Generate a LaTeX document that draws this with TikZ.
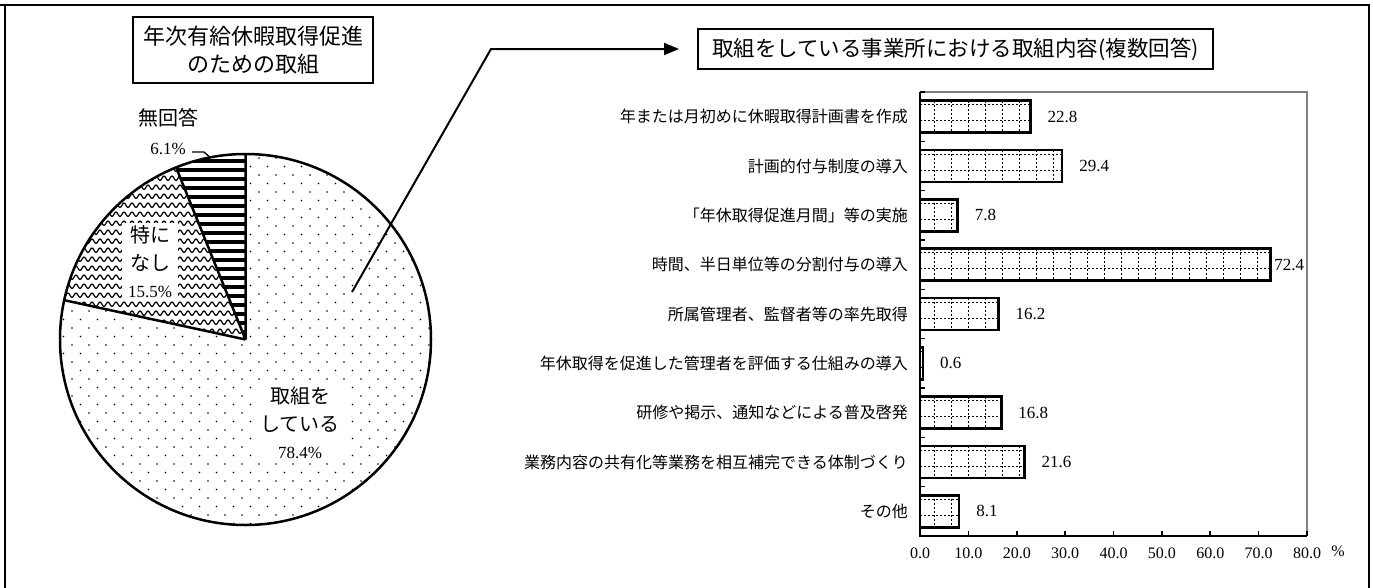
\documentclass[tikz,border=0pt]{standalone}
\usepackage{fontspec}
\setmainfont{Liberation Serif}
\newfontfamily\jp{Noto Sans CJK JP}
\usetikzlibrary{patterns,arrows.meta}

\pgfdeclarepatternformonly{sparsedots}{\pgfqpoint{-1pt}{-1pt}}{\pgfqpoint{18pt}{18pt}}{\pgfqpoint{17pt}{17pt}}{%
  \pgfpathcircle{\pgfqpoint{4pt}{4pt}}{0.9pt}%
  \pgfpathcircle{\pgfqpoint{12.5pt}{12.5pt}}{0.9pt}%
  \pgfusepath{fill}}
\pgfdeclarepatternformonly{wavelines}{\pgfqpoint{-1pt}{-1pt}}{\pgfqpoint{9pt}{10pt}}{\pgfqpoint{8pt}{9pt}}{%
  \pgfsetlinewidth{1.2pt}%
  \pgfpathmoveto{\pgfqpoint{0pt}{1.5pt}}%
  \pgfpathcurveto{\pgfqpoint{1.5pt}{1.5pt}}{\pgfqpoint{2.5pt}{6pt}}{\pgfqpoint{4pt}{6pt}}%
  \pgfpathcurveto{\pgfqpoint{5.5pt}{6pt}}{\pgfqpoint{6.5pt}{1.5pt}}{\pgfqpoint{8pt}{1.5pt}}%
  \pgfusepath{stroke}}

\begin{document}
\begin{tikzpicture}[x=1pt,y=-1pt,
    frame/.style={line width=2.2pt},
    titlebox/.style={draw,line width=2pt,fill=white,align=center,
      font=\jp\fontsize{22}{28}\selectfont},
    pielabel/.style={fill=white,align=center,inner xsep=6pt,inner ysep=3pt,
      font=\jp\fontsize{20}{27.5}\selectfont},
    pieedge/.style={line width=2.5pt},
    bar/.style={line width=2.5pt},
    gridline/.style={line width=0.9pt,dash pattern=on 2pt off 2pt},
    cat/.style={anchor=east,inner sep=0pt,font=\jp\fontsize{16}{18}\selectfont},
    value/.style={anchor=west,inner sep=0pt,font=\fontsize{17}{18}\selectfont},
    ticklabel/.style={inner sep=0pt,font=\fontsize{16}{16}\selectfont},
    axisline/.style={line width=1.6pt},
    plotedge/.style={line width=1.6pt,gray}]

  \useasboundingbox (0,0) rectangle (1373,587);

  % outer frame
  \draw[line width=1.2pt] (0,5) -- (482,5);
  \draw[frame] (5,590) -- (5,5);
  \draw[frame] (482,5) -- (1369,5) -- (1369,590);

  % pie
  \coordinate (pc) at (245.5,339.5);
  \fill[pattern=sparsedots] (pc) -- ++(-90:185.5) arc[start angle=-90,end angle=192.24,radius=185.5] -- cycle;
  \fill[pattern=wavelines] (pc) -- ++(192.24:185.5) arc[start angle=192.24,end angle=248.04,radius=185.5] -- cycle;
  \begin{scope}
    \clip (pc) -- ++(248.04:185.5) arc[start angle=248.04,end angle=270,radius=185.5] -- cycle;
    \foreach \sy in {152,161,...,345}
      \draw[line width=4.3pt] (160,\sy) -- (250,\sy);
  \end{scope}
  \draw[pieedge] (pc) circle[radius=185.5];
  \draw[pieedge] (pc) -- ++(-90:185.5) (pc) -- ++(192.24:185.5) (pc) -- ++(248.04:185.5);

  \node[pielabel] (tk) at (300,423) {取組を\\している\\{\rmfamily\fontsize{17}{27.5}\selectfont 78.4\%}};
  \node[pielabel] (tn) at (150,262) {特に\\なし\\{\rmfamily\fontsize{17}{27.5}\selectfont 15.5\%}};
  \node[align=center,inner sep=0pt,font=\jp\fontsize{20}{29}\selectfont] (nr) at (168,132) {無回答\\{\rmfamily\fontsize{17}{29}\selectfont 6.1\%}};
  \coordinate (nrlead) at (192,152);
  \coordinate (nrarc) at ([shift={(pc)}]259:185.5);
  \draw[line width=1.3pt] (nrlead) -- (204,152) -- (nrarc);

  % titles
  \node[titlebox,minimum width=240pt,minimum height=66pt] (t1) at (253,50) {年次有給休暇取得促進\\のための取組};
  \node[titlebox,minimum width=515pt,minimum height=40pt,font=\jp\fontsize{21.5}{28}\selectfont] (t2) at (955.5,49) {取組をしている事業所における取組内容(複数回答)};

  \coordinate (astart) at (352,292);
  \coordinate (abend) at (491,49);
  \draw[line width=2pt,-{Triangle[length=15pt,width=12pt]},shorten >=18pt] (astart) -- (abend) -- (t2.west);

  % bars
  \foreach \v [count=\i] in {22.8,29.4,7.8,72.4,16.2,0.6,16.8,21.6,8.1}{
    \pgfmathsetmacro\yc{92+49.33*(\i-0.5)}
    \pgfmathsetmacro\xe{920+4.8375*\v}
    \pgfmathsetmacro\lx{\v>70 ? \xe+4 : \xe+17}
    \begin{scope}
      \clip (920,\yc-16) rectangle (\xe,\yc+16);
      \foreach \gx in {934,951,...,1300} \draw[gridline] (\gx,\yc-16) -- (\gx,\yc+16);
      \draw[gridline] (920,\yc-12) -- (1300,\yc-12) (920,\yc+4) -- (1300,\yc+4);
    \end{scope}
    \draw[bar] (920,\yc-16) rectangle (\xe,\yc+16);
    \node[value] (v\i) at (\lx,\yc) {\v};
  }

  \foreach \t [count=\i] in {年または月初めに休暇取得計画書を作成,計画的付与制度の導入,「年休取得促進月間」等の実施,時間、半日単位等の分割付与の導入,所属管理者、監督者等の率先取得,年休取得を促進した管理者を評価する仕組みの導入,研修や掲示、通知などによる普及啓発,業務内容の共有化等業務を相互補完できる体制づくり,その他}
    \node[cat] (c\i) at (908,{92+49.33*(\i-0.5)}) {\t};

  % axes
  \draw[plotedge] (920,92) -- (1307,92) -- (1307,536);
  \draw[axisline] (920,92) -- (920,536) -- (1307,536);
  \foreach \k in {0,...,8}
    \draw[axisline] (920,{92+49.33*\k}) -- ++(5,0);
  \foreach \lab [count=\k from 0] in {0.0,10.0,20.0,30.0,40.0,50.0,60.0,70.0,80.0}{
    \draw[axisline] ({920+48.375*\k},536) -- ++(0,-5);
    \node[ticklabel] (x\k) at ({920+48.375*\k},553) {\lab};
  }
  \node[ticklabel] (unit) at (1338,551) {\%};
\end{tikzpicture}
\end{document}
